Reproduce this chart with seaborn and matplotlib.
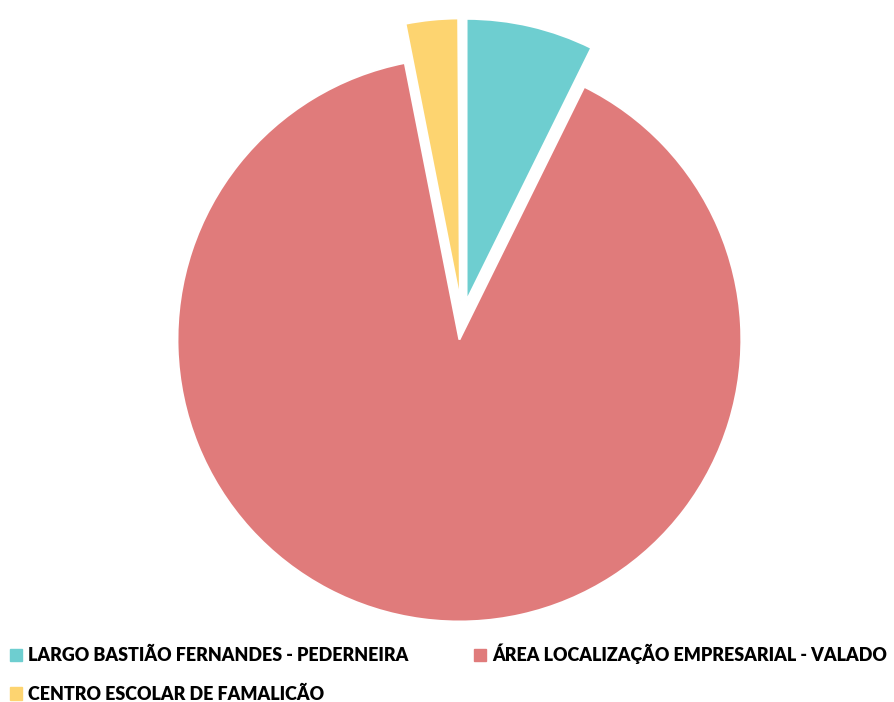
import matplotlib
matplotlib.use("Agg")
import matplotlib.pyplot as plt
import matplotlib.patches as mpatches
import seaborn as sns

# locations and their share of the total
labels = ['LARGO BASTIÃO FERNANDES - PEDERNEIRA',
          'ÁREA LOCALIZAÇÃO EMPRESARIAL - VALADO',
          'CENTRO ESCOLAR DE FAMALICÃO',
          '']
values = [7.3, 89.6, 3.0, 0.1]
colors = ['#6ECED0', '#E07B7B', '#FDD470', '#F8DDC0']

sns.set_theme(style="white")
plt.rcParams['font.family'] = ['Lato', 'DejaVu Sans']

fig = plt.figure(figsize=(8.95, 7.02), dpi=100)
ax = fig.add_axes([0, 0, 1, 1])

wedges, _ = ax.pie(values, colors=colors, startangle=90, counterclock=False,
                   explode=[0.07] * len(values),
                   wedgeprops=dict(edgecolor='white', linewidth=1.5))

# 1 data unit = 282 px, pie centre at (462, 320) px from top-left
ax.set_xlim(-462 / 282, 433 / 282)
ax.set_ylim(-382 / 282, 320 / 282)
ax.set_aspect('auto')
ax.axis('off')

# legend: row-major order like the original, so reorder for column filling
order = [0, 2, 1]
handles = [mpatches.Patch(color=colors[i]) for i in order]
names = [labels[i] for i in order]
leg = fig.legend(handles, names, loc='lower left', bbox_to_anchor=(10 / 895, -0.001),
                 ncol=2, frameon=False, borderpad=0, borderaxespad=0,
                 handlelength=0.68, handleheight=0.68,
                 handletextpad=0.3, columnspacing=3.7, labelspacing=1.2,
                 prop={'weight': 'heavy', 'size': 12.9})
for t in leg.get_texts():
    t.set_color('black')

plt.savefig('out.png', dpi=100)
